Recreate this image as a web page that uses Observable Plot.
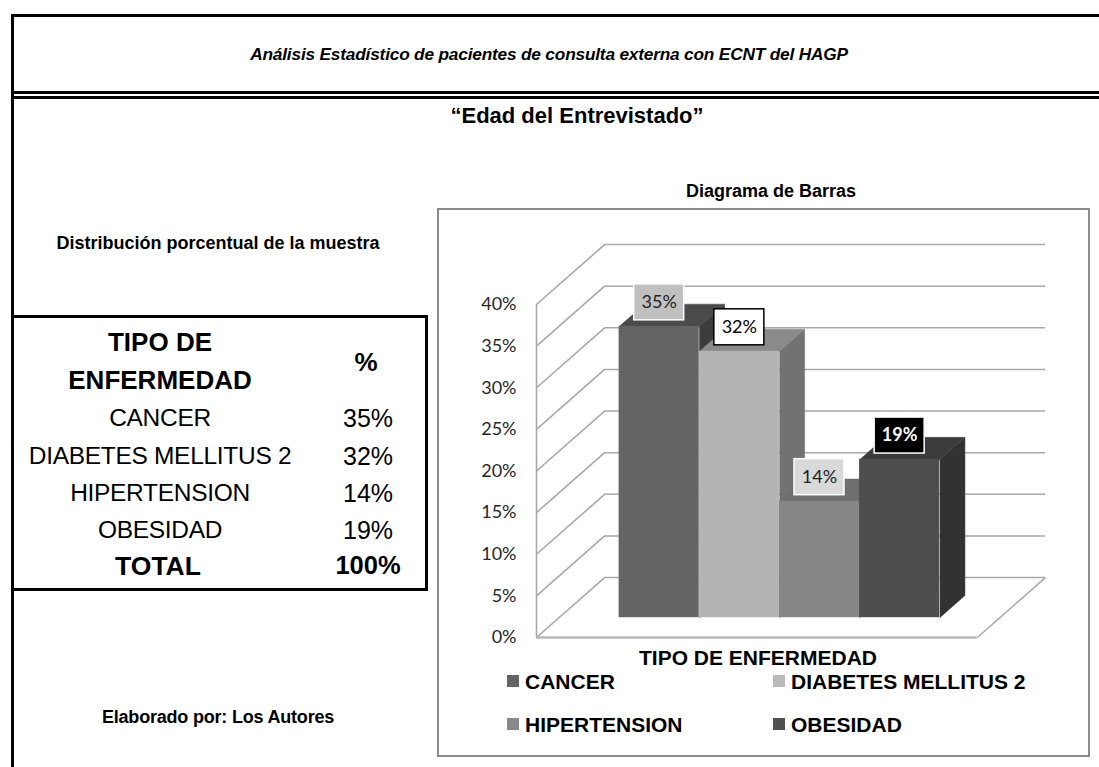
<!DOCTYPE html>
<html><head><meta charset="utf-8">
<script src="https://cdn.jsdelivr.net/npm/d3@7"></script>
<script src="https://cdn.jsdelivr.net/npm/@observablehq/plot@0.6"></script>
<style>
html,body{margin:0;padding:0;background:#fff;}
#page{position:relative;width:1099px;height:767px;overflow:hidden;font-family:"Liberation Sans",Arial,sans-serif;color:#000;}
.c{position:absolute;transform:translate(-50%,-50%);white-space:nowrap;line-height:1;}
.l{position:absolute;transform:translate(0,-50%);white-space:nowrap;line-height:1;}
</style></head><body><div id="page"></div>
<script>
// ---- data ----
const title = "Análisis Estadístico de pacientes de consulta externa con ECNT del HAGP";
const subtitle = "“Edad del Entrevistado”";
const tableTitle = "Distribución porcentual de la muestra";
const chartTitle = "Diagrama de Barras";
const headerCategory = ["TIPO DE", "ENFERMEDAD"];
const headerValue = "%";
const categories = ["CANCER", "DIABETES MELLITUS 2", "HIPERTENSION", "OBESIDAD"];
const percents = [35, 32, 14, 19];
const totalLabel = "TOTAL";
const totalValue = 100;
const yTicks = [0, 5, 10, 15, 20, 25, 30, 35, 40];
const xTitle = "TIPO DE ENFERMEDAD";
const source = "Elaborado por: Los Autores";

// ---- styles ----
const frontColors = ["#646464", "#b4b4b4", "#868686", "#4e4e4e"];
const topColors   = ["#4a4a4a", "#8a8a8a", "#6e6e6e", "#3c3c3c"];
const sideColors  = ["#3c3c3c", "#727272", "#6a6a6a", "#323232"];
const legendColors = ["#646464", "#bababa", "#888888", "#505050"];
const labelFill   = ["#c0c0c0", "#ffffff", "#d9d9d9", "#000000"];
const labelStroke = ["#ffffff", "#000000", "#ffffff", "#ffffff"];
const labelInk    = ["#222222", "#000000", "#222222", "#ffffff"];
const labelWeight = ["normal", "normal", "normal", "bold"];
const gridColor = "#a8a8a8";

const page = document.getElementById("page");
function add(cls, text, x, y, css) {
  const d = document.createElement("div");
  d.className = cls; d.textContent = text;
  d.style.left = x + "px"; d.style.top = y + "px";
  Object.assign(d.style, css || {});
  page.appendChild(d); return d;
}
function box(x, y, w, h, css) {
  const d = document.createElement("div");
  d.style.position = "absolute";
  d.style.left = x + "px"; d.style.top = y + "px";
  d.style.width = w + "px"; d.style.height = h + "px";
  Object.assign(d.style, css || {});
  page.appendChild(d); return d;
}

// page frame
box(11, 14, 1100, 3, {background: "#000"});
box(11, 14, 3, 760, {background: "#000"});
box(11, 91, 1100, 3, {background: "#000"});
box(11, 96, 1100, 3, {background: "#000"});

add("c", title, 549, 55, {fontWeight: "bold", fontStyle: "italic", fontSize: "17.3px", letterSpacing: "-0.2px"});
add("c", subtitle, 577, 116, {fontWeight: "bold", fontSize: "22px"});
add("c", tableTitle, 218, 243, {fontWeight: "bold", fontSize: "18px"});
add("c", chartTitle, 771, 191, {fontWeight: "bold", fontSize: "18px"});
add("c", source, 218, 717, {fontWeight: "bold", fontSize: "18px", letterSpacing: "-0.2px"});

// table
box(11, 315, 411, 270, {border: "3px solid #000"});
const colCat = 160, colVal = 368;
add("c", headerCategory[0], colCat, 342, {fontWeight: "bold", fontSize: "26px"});
add("c", headerCategory[1], colCat, 380, {fontWeight: "bold", fontSize: "26px"});
add("c", headerValue, colVal - 2, 362, {fontWeight: "bold", fontSize: "26px"});
const rowY = [418, 456, 493, 530];
categories.forEach((c, i) => {
  add("c", c, colCat, rowY[i], {fontSize: "24.5px", letterSpacing: "-0.3px"});
  add("c", percents[i] + "%", colVal, rowY[i], {fontSize: "25px"});
});
add("c", totalLabel, colCat - 2, 566, {fontWeight: "bold", fontSize: "26.5px"});
add("c", totalValue + "%", colVal, 566, {fontWeight: "bold", fontSize: "25.5px"});

// chart box
box(437, 208, 649, 545, {border: "2px solid #8c8c8c"});

// ---- 3D bar chart ----
const N = categories.length;
const P = 0.75;            // outer padding in bar widths
const XMAX = N + 2 * P;    // floor width in bar widths
const DX = 0.85, DY = 7.2; // full depth offset (x in bar widths, y in %)
const D0 = 0.33, D1 = 0.70; // bar depth range
const proj = (x, y, d) => ({x: x + d * DX, y: y + d * DY});
const rows = categories.map((c, i) => ({cat: c, i, v: percents[i]}));

const barMarks = rows.flatMap(r => {
  const xl = P + r.i, xr = xl + 1;
  const side = [proj(xr, 0, D0), proj(xr, 0, D1), proj(xr, r.v, D1), proj(xr, r.v, D0)];
  const top = [proj(xl, r.v, D0), proj(xr, r.v, D0), proj(xr, r.v, D1), proj(xl, r.v, D1)];
  return [
    Plot.line(side, {x: "x", y: "y", fill: sideColors[r.i], stroke: sideColors[r.i], strokeWidth: 0.5}),
    Plot.line(top, {x: "x", y: "y", fill: topColors[r.i], stroke: topColors[r.i], strokeWidth: 0.5}),
    Plot.rect([r], {x1: proj(xl, 0, D0).x, x2: proj(xr, 0, D0).x, y1: proj(xl, 0, D0).y, y2: d => proj(xl, d.v, D0).y, fill: "cat"})
  ];
});
const labelMarks = rows.flatMap(r => {
  const c = proj(P + r.i + 0.5, r.v, D0);
  return [
    Plot.rect([r], {x1: c.x, x2: c.x, y1: c.y, y2: c.y, insetLeft: -25, insetRight: -25, insetTop: -18, insetBottom: -18, dy: -24,
      fill: labelFill[r.i], stroke: labelStroke[r.i], strokeWidth: 1.5}),
    Plot.text([r], {x: c.x, y: c.y, dy: -24, text: d => d.v + "%", fill: labelInk[r.i], fontWeight: labelWeight[r.i], fontSize: 18, fontFamily: "Lato"})
  ];
});

const chart = Plot.plot({
  width: 650, height: 546,
  marginLeft: 98, marginRight: 43, marginTop: 95, marginBottom: 118,
  style: {fontFamily: "Lato", fontSize: "18px", color: "#262626", background: "transparent", overflow: "visible"},
  x: {domain: [0, XMAX + DX], axis: null},
  y: {domain: [0, 40], ticks: 8, tickFormat: d => d + "%", tickSize: 0, tickPadding: 20, label: null},
  color: {domain: categories, range: frontColors},
  marks: [
    Plot.ruleY(yTicks, {y: t => t + DY, x1: DX, x2: XMAX + DX, stroke: gridColor, strokeWidth: 1.6}),
    Plot.link(yTicks, {x1: 0, y1: t => t, x2: DX, y2: t => t + DY, stroke: gridColor, strokeWidth: 1.6}),
    Plot.ruleX([0], {y1: 0, y2: 40, stroke: gridColor, strokeWidth: 1.6}),
    Plot.ruleY([0], {x1: 0, x2: XMAX, stroke: "#b8b8b8", strokeWidth: 2.5}),
    Plot.link([0], {x1: XMAX, y1: 0, x2: XMAX + DX, y2: DY, stroke: gridColor, strokeWidth: 1.6}),
    ...barMarks,
    ...labelMarks
  ]
});
chart.style.position = "absolute";
chart.style.left = "438px";
chart.style.top = "209px";
page.appendChild(chart);

add("c", xTitle, 758, 657, {fontWeight: "bold", fontSize: "21px"});
const legX = [507, 773], legY = [681, 724];
categories.forEach((c, i) => {
  const x = legX[i % 2], y = legY[Math.floor(i / 2)];
  box(x, y - 6, 12, 12, {background: legendColors[i]});
  add("l", c, x + 18, y, {fontWeight: "bold", fontSize: "21px"});
});
</script></body></html>
